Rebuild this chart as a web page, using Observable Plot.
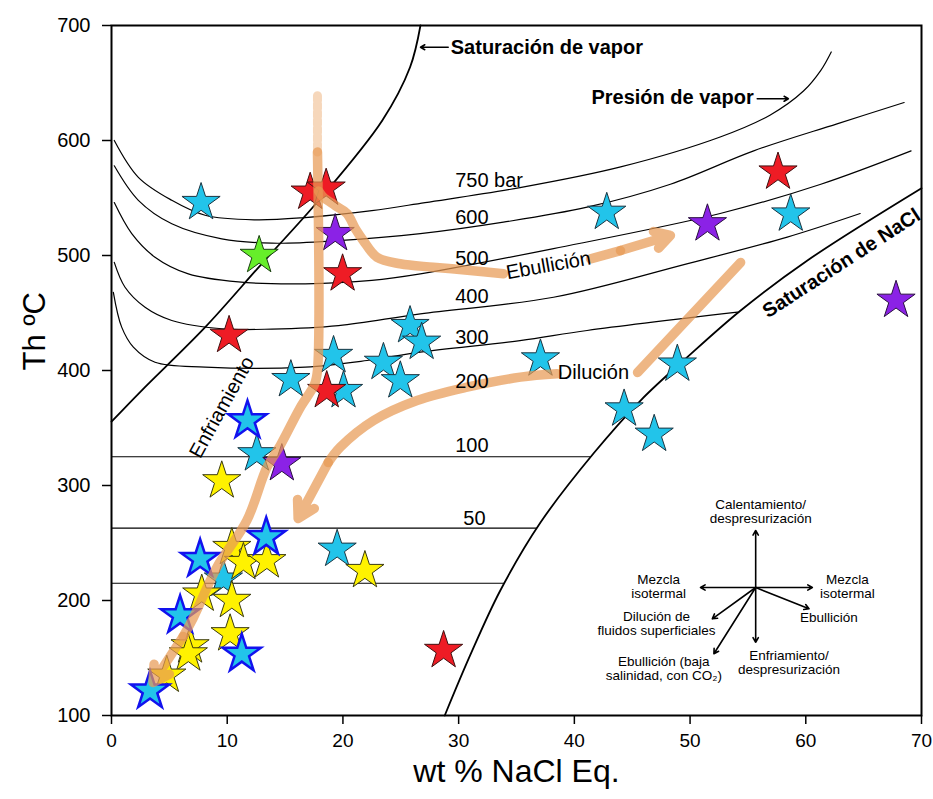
<!DOCTYPE html>
<html><head><meta charset="utf-8">
<script src="https://cdn.jsdelivr.net/npm/d3@7"></script>
<script src="https://cdn.jsdelivr.net/npm/@observablehq/plot@0.6"></script>
<style>body{margin:0;background:#fff}</style>
</head><body><div id="chart"></div>
<script>
// ---- axes
const xTicks = [0, 10, 20, 30, 40, 50, 60, 70];
const yTicks = [100, 200, 300, 400, 500, 600, 700];

// ---- isobars [wt% NaCl, Th °C]
const isobar750 = [[0.24,600],[2.32,568],[5.21,548],[8.09,535],[12.41,531],[16.74,533],[22.5,539],[27.1,546],[35.3,559],[44.0,577],[52.6,603],[56.9,622],[59.8,643],[61.3,661],[62.2,677]];
const isobar600 = [[0.24,578],[2.32,548],[5.21,527.6],[9.53,514.5],[13.86,510.7],[19.62,513],[26.69,519],[33.87,529],[41.1,542],[48.3,562],[55.5,591],[62.7,614.5],[68.5,633]];
const isobar500 = [[0.24,546],[1.75,519],[3.76,498.5],[6.64,484],[10.97,477],[16.74,475.4],[22.5,478.3],[26.69,484],[38.2,506],[52.6,536.5],[61.3,562],[69.1,591]];
const isobar400 = [[0.24,494],[1.17,472.4],[2.9,455],[5.21,443.5],[9.53,436.3],[13.86,436],[19.62,439],[26.69,449.3],[38.2,463.7],[49.8,493],[58.4,516],[64.7,536.5]];
const isobar300 = [[0.16,468],[0.88,437.7],[1.89,420.3],[3.76,407.2],[8.09,403],[16.74,403],[22.08,408.7],[26.69,416],[35.3,426],[41.1,434.8],[54.1,450.7]];
const vaporSaturation = [[0,355.5],[2.6,382.6],[8.1,437.7],[13,493],[17.9,547.8],[23.4,617.4],[25.8,663.7],[26.7,700]];
const naclSaturation = [[28.8,100],[30.99,152.2],[33.6,208.7],[37.07,267.8],[41.65,327.8],[45.72,373.9],[49.76,411.6],[54.37,452.2],[60.14,495.7],[70,558.5]];
const flatLineT = [325, 263, 215];
const flatLineEnd = [41.43, 36.79, 33.97];

// ---- fluid inclusion data (stars)
const cyanStars = [[7.74,546],[42.8,537.5],[58.7,536],[25.8,439],[26.8,424.5],[23.5,407],[24.96,391],[19.19,413],[15.5,392],[20.05,382.5],[37.07,410],[48.9,405.5],[44.3,366.5],[46.9,344.5],[12.56,327.5],[19.5,244.5],[9.67,218.5]];
const yellowStars = [[9.53,304],[10.4,246],[11.4,233],[13.43,234.5],[21.9,226],[7.8,205.5],[10.4,200],[10.25,171],[6.79,160.5],[6.64,153.5],[4.78,135]];
const blueEdgeStars = [[11.75,356.5],[13.37,255],[7.66,236],[5.93,187],[11.26,153.5],[3.33,121.5]];
const redStars = [[17.17,555],[18.55,558.5],[19.97,484],[10.16,430.5],[18.6,382.5],[57.6,572.5],[28.7,156.5]];
const purpleStars = [[19.33,519],[51.5,527.5],[67.8,461],[14.72,319]];
const greenStars = [[12.76,500]];

// ---- interpretive orange paths
const verticalFaded = [[17.8,639],[17.8,590]];
const enfriamientoPath = [[17.8,590],[17.8,400],[17.55,388],[16.31,367.8],[14.58,334.8],[13.43,315.7],[11.7,269.6],[9.1,228.7],[7.08,185.2],[6.19,168.7]];
const enfriamientoHead = [[6.19,168.7],[3.59,128.7]];
const ebullicionPathA = [[17.9,556],[18.3,550.7],[19.33,543.5],[20.35,536.5],[21.06,523.5],[21.76,513],[22.94,498.5],[24.95,492.8],[27.81,489.8],[31.0,487],[33.87,484.1]];
const ebullicionPathB = [[41.4,497.1],[43.99,504.3]];
const ebullicionHead = [[43.99,504.3],[48.3,517.4]];
const dilucionPathA = [[54.37,493.9],[45.46,398.3]];
const dilucionPathB = [[38.51,397.1],[35.34,394.2],[30.73,385.5],[26.4,373.9],[22.65,356.5],[19.77,333.3],[18.73,320]];
const dilucionHead = [[18.73,320],[16.13,271.3]];

// ---- labels
const isobarLabels = ["750 bar","600","500","400","300","200","100","50"];
const isobarLabelX = [29.7,29.7,29.7,29.7,29.7,29.7,29.7,30.4];
const isobarLabelT = [565,533,497,464,429,390,335,271];

// ---- process legend (vector diagram)
const legendOrigin = [55.67, 211.3];
const legendTips = [[55.67,260.9],[50.9,211.3],[60.57,211.3],[60.28,192.8],[55.67,163.7],[51.92,184.1],[52.06,153.7]];
const legendTexts = ["Calentamiento/\ndespresurización","Mezcla\nisotermal","Mezcla\nisotermal","Ebullición","Enfriamiento/\ndespresurización","Dilución de\nfluidos superficiales","Ebullición (baja\nsalinidad, con CO₂)"];
const legendTextPos = [[56.1,277.4],[47.28,211.9],[63.6,211.9],[62.0,185.0],[58.55,146.1],[47.1,179.7],[47.73,140.9]];

// ---- build tables
const pts = a => a.map(([x, y]) => ({x, y}));
const curveRows = [["750",isobar750],["600",isobar600],["500",isobar500],["400",isobar400],["300",isobar300]]
  .flatMap(([id, a]) => a.map(([x, y]) => ({id, x, y})));
const flatRows = flatLineT.map((t, i) => ({y: t, x1: 0, x2: flatLineEnd[i]}));
const labelRows = isobarLabels.map((t, i) => ({text: t, x: isobarLabelX[i], y: isobarLabelT[i]}));
const legendArrowRows = legendTips.map(([x, y]) => ({x1: legendOrigin[0], y1: legendOrigin[1], x2: x, y2: y}));
const legendTextRows = legendTexts.map((t, i) => ({text: t, x: legendTextPos[i][0], y: legendTextPos[i][1]}));
const seg = a => [{x1: a[0][0], y1: a[0][1], x2: a[1][0], y2: a[1][1]}];

const ORANGE = "#E89A55";
const OP = 0.72;
const R = 12;
const starMark = (a, fill, stroke, sw) => Plot.dot(pts(a), {x: "x", y: "y", symbol: "star", r: R, fill, stroke, strokeWidth: sw});

const chart = Plot.plot({
  width: 933, height: 799,
  marginLeft: 111, marginRight: 12, marginTop: 25, marginBottom: 84,
  x: {domain: [0, 70]},
  y: {domain: [100, 700]},
  style: {fontFamily: "Liberation Sans, Arial, sans-serif", background: "white", color: "black"},
  marks: [
    Plot.ruleY(flatRows, {y: "y", x1: "x1", x2: "x2", stroke: "black", strokeWidth: 1.2}),
    Plot.line(curveRows, {x: "x", y: "y", z: "id", curve: "catmull-rom", stroke: "black", strokeWidth: 1.2}),
    Plot.line(pts(vaporSaturation), {x: "x", y: "y", curve: "catmull-rom", stroke: "black", strokeWidth: 1.8}),
    Plot.line(pts(naclSaturation), {x: "x", y: "y", curve: "catmull-rom", stroke: "black", strokeWidth: 1.8}),
    starMark(cyanStars, "#22C4EA", "#1b3440", 1),
    starMark(yellowStars, "#FFF200", "#3a3a10", 1),
    starMark(blueEdgeStars, "#22C4EA", "#1212EE", 2.5),
    starMark(redStars, "#EE1C25", "#401010", 1),
    starMark(purpleStars, "#8B22E6", "#2a1040", 1),
    starMark(greenStars, "#66EE2A", "#1a4010", 1),
    // orange process paths
    Plot.line(pts(verticalFaded), {x: "x", y: "y", stroke: ORANGE, strokeWidth: 9, strokeOpacity: 0.4, strokeDasharray: "5,3"}),
    Plot.line(pts(enfriamientoPath), {x: "x", y: "y", curve: "catmull-rom", stroke: ORANGE, strokeWidth: 9.5, strokeOpacity: OP}),
    Plot.arrow(seg(enfriamientoHead), {x1: "x1", y1: "y1", x2: "x2", y2: "y2", stroke: ORANGE, strokeWidth: 9.5, strokeOpacity: OP, headLength: 3}),
    Plot.line(pts(ebullicionPathA), {x: "x", y: "y", curve: "catmull-rom", stroke: ORANGE, strokeWidth: 9.5, strokeOpacity: OP}),
    Plot.line(pts(ebullicionPathB), {x: "x", y: "y", stroke: ORANGE, strokeWidth: 9.5, strokeOpacity: OP}),
    Plot.arrow(seg(ebullicionHead), {x1: "x1", y1: "y1", x2: "x2", y2: "y2", stroke: ORANGE, strokeWidth: 9.5, strokeOpacity: OP, headLength: 3}),
    Plot.line(pts(dilucionPathA), {x: "x", y: "y", stroke: ORANGE, strokeWidth: 9.5, strokeOpacity: OP}),
    Plot.line(pts(dilucionPathB), {x: "x", y: "y", curve: "catmull-rom", stroke: ORANGE, strokeWidth: 9.5, strokeOpacity: OP}),
    Plot.arrow(seg(dilucionHead), {x1: "x1", y1: "y1", x2: "x2", y2: "y2", stroke: ORANGE, strokeWidth: 9.5, strokeOpacity: OP, headLength: 3}),
    // labels
    Plot.text(labelRows, {x: "x", y: "y", text: "text", textAnchor: "start", fontSize: 20, fill: "black"}),
    Plot.text([{x: 37.76, y: 491.3}], {x: "x", y: "y", text: () => "Ebullición", rotate: -10, fontSize: 20, fill: "black"}),
    Plot.text([{x: 41.65, y: 398.5}], {x: "x", y: "y", text: () => "Dilución", fontSize: 20, fill: "black"}),
    Plot.text([{x: 9.53, y: 368.1}], {x: "x", y: "y", text: () => "Enfriamiento", rotate: -61, fontSize: 20, fill: "black"}),
    Plot.text([{x: 63.08, y: 493.3}], {x: "x", y: "y", text: () => "Saturación de NaCl", rotate: -33, fontSize: 20, fontWeight: "bold", fill: "black"}),
    Plot.text([{x: 29.32, y: 681.1}], {x: "x", y: "y", text: () => "Saturación de vapor", textAnchor: "start", fontSize: 20, fontWeight: "bold", fill: "black"}),
    Plot.arrow([{x1: 29.1, x2: 26.7, y: 681.1}], {x1: "x1", x2: "x2", y1: "y", y2: "y", stroke: "black", strokeWidth: 1.5, headLength: 5}),
    Plot.text([{x: 55.5, y: 637.6}], {x: "x", y: "y", text: () => "Presión de vapor", textAnchor: "end", fontSize: 20, fontWeight: "bold", fill: "black"}),
    Plot.arrow([{x1: 55.8, x2: 58.5, y: 636.3}], {x1: "x1", x2: "x2", y1: "y", y2: "y", stroke: "black", strokeWidth: 1.5, headLength: 5}),
    // legend diagram
    Plot.arrow(legendArrowRows, {x1: "x1", y1: "y1", x2: "x2", y2: "y2", stroke: "black", strokeWidth: 1.6, headLength: 5}),
    Plot.text(legendTextRows, {x: "x", y: "y", text: "text", fontSize: 13.5, lineHeight: 1.05, fill: "black"}),
    // axes and frame
    Plot.axisX(xTicks, {tickSize: 9, tickPadding: 9, fontSize: 19, strokeWidth: 1.5, label: null}),
    Plot.axisY(yTicks, {tickSize: 9, tickPadding: 12, fontSize: 20, strokeWidth: 1.5, label: null}),
    Plot.frame({stroke: "black", strokeWidth: 2}),
    Plot.text(["wt % NaCl Eq."], {frameAnchor: "bottom", dy: 66, text: d => d, fontSize: 32, fill: "black"}),
    Plot.text(["Th ºC"], {frameAnchor: "left", dx: -76, rotate: -90, text: d => d, fontSize: 31, fill: "black"})
  ]
});
document.getElementById("chart").append(chart);
</script>
</body></html>
